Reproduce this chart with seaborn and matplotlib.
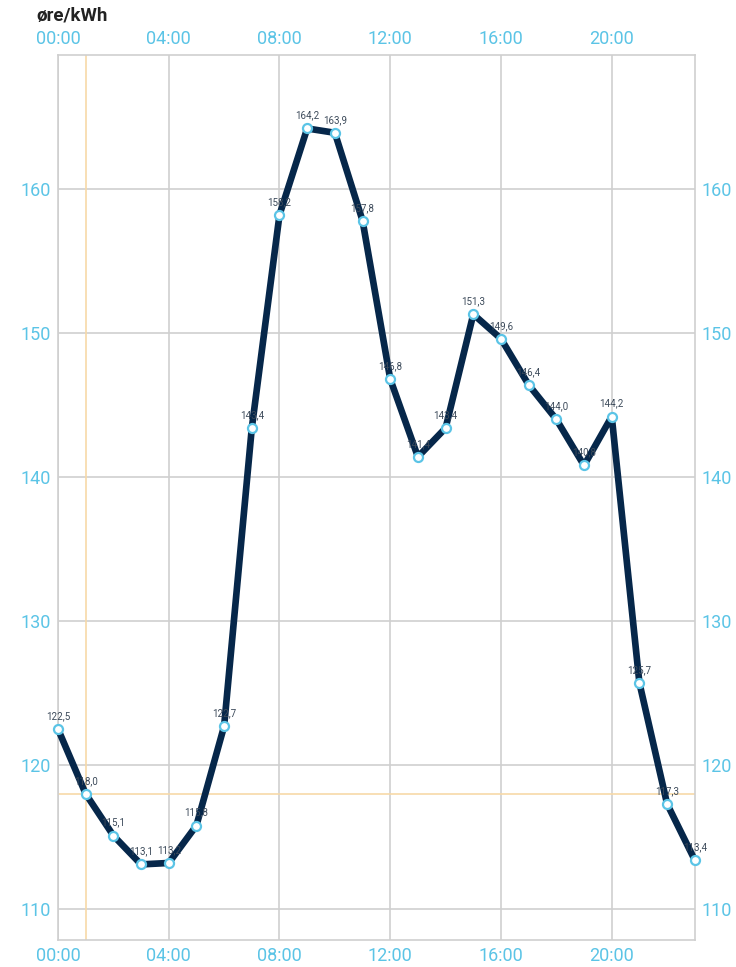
import matplotlib
matplotlib.use('Agg')
import matplotlib.pyplot as plt
import seaborn as sns
import pandas as pd

hours = list(range(24))
prices = [122.5, 118.0, 115.1, 113.1, 113.2, 115.8, 122.7, 143.4, 158.2, 164.2, 163.9, 157.8,
          146.8, 141.4, 143.4, 151.3, 149.6, 146.4, 144.0, 140.8, 144.2, 125.7, 117.3, 113.4]
labels = ['122,5', '118,0', '115,1', '113,1', '113,2', '115,8', '122,7', '143,4', '158,2', '164,2',
          '163,9', '157,8', '146,8', '141,4', '143,4', '151,3', '149,6', '146,4', '144,0', '140,8',
          '144,2', '125,7', '117,3', '113,4']
xticks = [0, 4, 8, 12, 16, 20]
xticklabels = ['00:00', '04:00', '08:00', '12:00', '16:00', '20:00']
yticks = [110, 120, 130, 140, 150, 160]
sel_hour = 1

df = pd.DataFrame({'hour': hours, 'price': prices})

sns.set_style('white')
plt.rcParams['font.family'] = ['Roboto', 'DejaVu Sans']

fig = plt.figure(figsize=(7.36, 9.67), dpi=100)
ax = fig.add_axes([0.0788, 0.0279, 0.8652, 0.9152])

blue = '#5bc4e6'
grid = '#cfcfcf'

ax.set_xlim(0, 23)
ax.set_ylim(107.85, 169.3)
for x in xticks:
    ax.axvline(x, color=grid, lw=1.2, zorder=0)
for y in yticks:
    ax.axhline(y, color=grid, lw=1.2, zorder=0)

# crosshair at selected hour
ax.axvline(sel_hour, color='#f7d9a8', lw=1.2, zorder=1)
ax.axhline(prices[sel_hour], color='#f7d9a8', lw=1.2, zorder=1)

sns.lineplot(data=df, x='hour', y='price', ax=ax, color='#06274a', lw=4.8,
             marker='o', markersize=6.5, markerfacecolor='white', markeredgecolor=blue,
             markeredgewidth=1.6, zorder=3, clip_on=False)

for h, p, t in zip(hours, prices, labels):
    ax.text(h, p + 0.55, t, ha='center', va='bottom', fontsize=7, color='#3c4a5a', zorder=4)

for s in ax.spines.values():
    s.set_color(grid)
    s.set_linewidth(1.2)

ax.set_xticks(xticks)
ax.set_xticklabels(xticklabels)
ax.set_yticks(yticks)
ax.tick_params(axis='both', length=0, labelsize=13, labelcolor=blue,
               top=True, labeltop=True, right=True, labelright=True, pad=5)
ax.set_xlabel('')
ax.set_ylabel('')

fig.text(0.05, 0.984, 'øre/kWh', fontsize=13.5, fontweight='bold', color='#222222',
         ha='left', va='center')

fig.savefig('out.png', dpi=100)
